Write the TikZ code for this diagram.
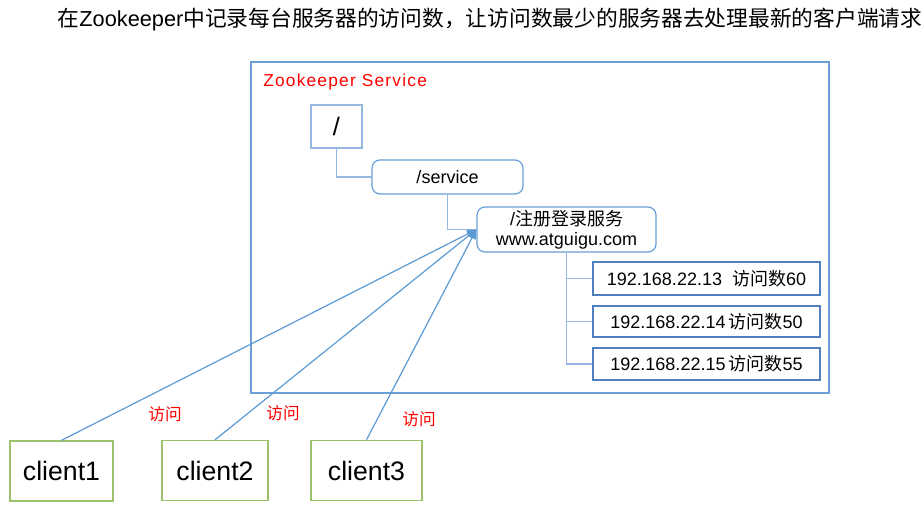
\documentclass[tikz,border=0pt]{standalone}
\usepackage{fontspec}
\setmainfont{Liberation Sans}
\newfontfamily\cjk{Noto Sans CJK SC}
\newfontfamily\spaced[LetterSpace=7]{Liberation Sans}
\usepackage{xcolor}
\usetikzlibrary{arrows.meta,positioning}
\definecolor{framecolor}{HTML}{6A9FD8}
\definecolor{treecolor}{HTML}{95B8E0}
\definecolor{ipcolor}{HTML}{4F7FC0}
\definecolor{clientcolor}{HTML}{9BC26B}
\definecolor{linkcolor}{HTML}{5B9BD5}
\newcommand{\zh}[1]{{\cjk #1}}

\begin{document}
\begin{tikzpicture}[
  x=0.75pt,y=-0.75pt,
  treebox/.style={rectangle,draw=treecolor,line width=0.9pt,font=\fontsize{13.5}{15}\selectfont,align=center,inner sep=0pt},
  roundbox/.style={treebox,draw=framecolor,rounded corners=6pt},
  ipbox/.style={rectangle,draw=ipcolor,line width=0.9pt,minimum width=227*0.75pt,font=\fontsize{13.5}{15}\selectfont,inner sep=0pt},
  clientbox/.style={rectangle,draw=clientcolor,line width=1pt,minimum height=60*0.75pt,font=\fontsize{20}{22}\selectfont,inner sep=0pt},
  tree/.style={draw=treecolor,line width=0.8pt},
  arr/.style={draw=linkcolor,line width=0.9pt,-{Triangle[length=7pt,width=6pt]}},
  note/.style={text=red,font=\cjk\fontsize{12.5}{14}\selectfont}
]
\useasboundingbox[fill=white] (0,0) rectangle (923,511);

\node[font=\fontsize{16.3}{18}\selectfont] (title) at (490,20) {\zh{在}Zookeeper\zh{中记录每台服务器的访问数，让访问数最少的服务器去处理最新的客户端请求}};

% service frame
\node[rectangle,draw=framecolor,line width=0.9pt,minimum width=578*0.75pt,minimum height=331*0.75pt] (frame) at (540,227.5) {};
\node[anchor=west,inner sep=0pt,text=red,font=\spaced\fontsize{13}{15}\selectfont] (frametitle) at (263,82) {Zookeeper Service};

% znode tree
\node[treebox,minimum width=51*0.75pt,minimum height=43*0.75pt,font=\fontsize{19}{21}\selectfont] (root) at (336.5,126.5) {/};
\node[roundbox,minimum width=151*0.75pt,minimum height=34*0.75pt] (service) at (447.5,177) {/service};
\node[roundbox,minimum width=179*0.75pt,minimum height=45*0.75pt] (reg) at (566.5,229.5) {/\zh{注册登录服务}\\www.atguigu.com};

\node[ipbox,minimum height=33*0.75pt] (ip1) at (706.5,278.5) {192.168.22.13\ \ \zh{访问数}60};
\node[ipbox,minimum height=31*0.75pt] (ip2) at (706.5,321.5) {192.168.22.14\,\zh{访问数}50};
\node[ipbox,minimum height=32*0.75pt] (ip3) at (706.5,364) {192.168.22.15\,\zh{访问数}55};

\draw[tree] (root.south) |- (service.west);
\draw[tree] (service.south) |- (reg.west);
\draw[tree] (reg.south) |- (ip1.west);
\draw[tree] (reg.south) |- (ip2.west);
\draw[tree] (reg.south) |- (ip3.west);

% clients
\node[clientbox,minimum width=103*0.75pt] (client1) at (61.5,471) {client1};
\node[clientbox,minimum width=106*0.75pt] (client2) at (215,470.5) {client2};
\node[clientbox,minimum width=111*0.75pt] (client3) at (366.5,470.5) {client3};

\draw[arr] (client1.north) -- (reg.west);
\draw[arr] (client2.north) -- (reg.west);
\draw[arr] (client3.north) -- (reg.west);

\node[note] (visit1) at (165,414) {访问};
\node[note] (visit2) at (283,413) {访问};
\node[note] (visit3) at (419,419) {访问};
\end{tikzpicture}
\end{document}
